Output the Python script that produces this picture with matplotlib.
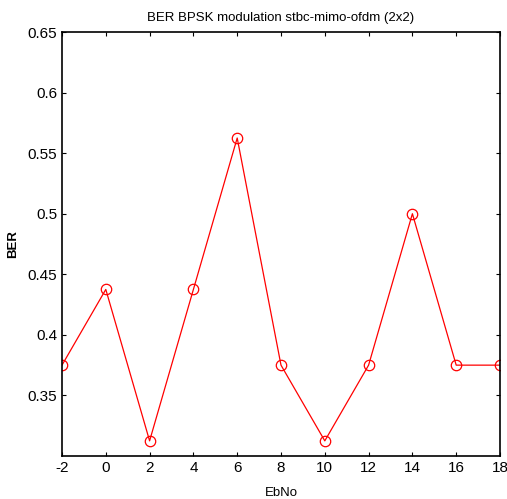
import numpy as np
import matplotlib
matplotlib.use('Agg')
import matplotlib.pyplot as plt

plt.rcParams['font.family'] = ['Liberation Sans', 'DejaVu Sans']
plt.rcParams['axes.unicode_minus'] = False

# 数据
EbNo = [-2, 0, 2, 4, 6, 8, 10, 12, 14, 16, 18]
BER = [0.375, 0.4375, 0.3125, 0.4375, 0.5625, 0.375, 0.3125, 0.375, 0.5, 0.375, 0.375]
x_ticks = [-2, 0, 2, 4, 6, 8, 10, 12, 14, 16, 18]
y_ticks = [0.35, 0.4, 0.45, 0.5, 0.55, 0.6, 0.65]

fig = plt.figure(figsize=(5.07, 4.99), dpi=100)
ax = fig.add_axes([62/507, 1-456/499, (500-62)/507, (456-32)/499])

ax.plot(EbNo, BER, color='red', linewidth=0.9, marker='o', markersize=7.5,
        markerfacecolor='none', markeredgecolor='red', markeredgewidth=0.9)

ax.set_xlim(-2, 18)
ax.set_ylim(0.3, 0.65)
ax.set_xticks(x_ticks)
ax.set_yticks(y_ticks)
ax.set_yticklabels(['0.35', '0.4', '0.45', '0.5', '0.55', '0.6', '0.65'])
ax.tick_params(direction='in', top=True, right=True, labelsize=11, length=3, width=0.8)
for s in ax.spines.values():
    s.set_linewidth(1.2)

ax.set_title('BER BPSK modulation stbc-mimo-ofdm (2x2)', fontsize=9.5, pad=8)
ax.set_xlabel('EbNo', fontsize=9.5, labelpad=9)
ax.set_ylabel('BER', fontsize=9.5, fontweight='bold', labelpad=6)

plt.savefig('out.png', dpi=100)
